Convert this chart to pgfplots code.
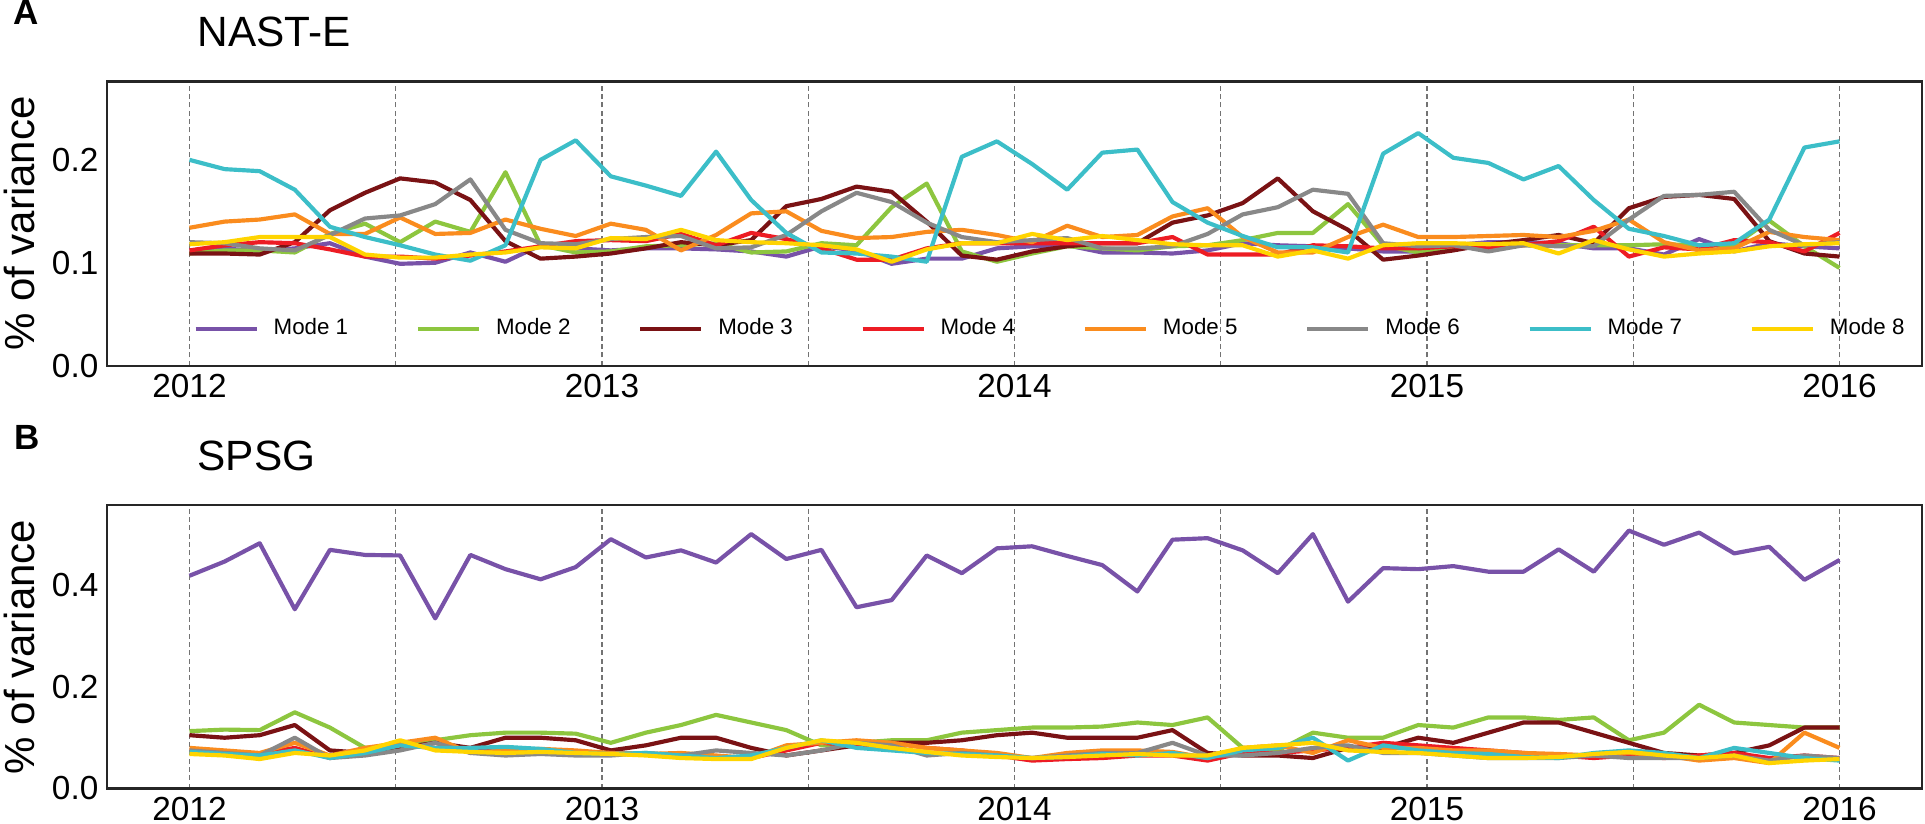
\documentclass[border=0pt]{standalone}
\usepackage{fontspec}
\setmainfont{Liberation Sans}
\usepackage{pgfplots}
\pgfplotsset{compat=1.18}
\usepackage{pgfplotstable}

\definecolor{c1}{RGB}{120,82,168}
\definecolor{c2}{RGB}{141,198,63}
\definecolor{c3}{RGB}{122,18,20}
\definecolor{c4}{RGB}{237,28,36}
\definecolor{c5}{RGB}{250,140,30}
\definecolor{c6}{RGB}{136,136,136}
\definecolor{c7}{RGB}{60,190,200}
\definecolor{c8}{RGB}{255,212,0}

\pgfplotstableread{
x m1 m2 m3 m4 m5 m6 m7 m8
2012.0000 0.112 0.109 0.109 0.112 0.134 0.120 0.200 0.118
2012.0851 0.114 0.112 0.109 0.117 0.140 0.119 0.191 0.120
2012.1702 0.111 0.112 0.108 0.120 0.142 0.114 0.189 0.125
2012.2553 0.114 0.110 0.120 0.119 0.147 0.112 0.171 0.125
2012.3404 0.119 0.128 0.151 0.113 0.128 0.127 0.135 0.125
2012.4255 0.106 0.138 0.168 0.106 0.128 0.143 0.125 0.108
2012.5106 0.099 0.120 0.182 0.106 0.144 0.146 0.117 0.105
2012.5957 0.100 0.140 0.178 0.104 0.128 0.157 0.108 0.105
2012.6809 0.110 0.130 0.161 0.107 0.129 0.181 0.102 0.108
2012.7660 0.101 0.188 0.121 0.111 0.142 0.132 0.117 0.110
2012.8511 0.117 0.117 0.104 0.116 0.133 0.119 0.200 0.115
2012.9362 0.114 0.110 0.106 0.121 0.126 0.118 0.219 0.114
2013.0213 0.112 0.111 0.109 0.122 0.138 0.123 0.184 0.124
2013.1064 0.114 0.116 0.114 0.121 0.132 0.125 0.175 0.123
2013.1915 0.114 0.117 0.120 0.128 0.112 0.126 0.165 0.132
2013.2766 0.113 0.119 0.117 0.117 0.127 0.114 0.208 0.122
2013.3617 0.111 0.110 0.122 0.129 0.148 0.115 0.161 0.120
2013.4468 0.106 0.111 0.155 0.123 0.150 0.127 0.129 0.119
2013.5319 0.116 0.119 0.162 0.114 0.131 0.150 0.110 0.117
2013.6170 0.112 0.117 0.174 0.103 0.124 0.168 0.109 0.113
2013.7021 0.099 0.154 0.169 0.103 0.125 0.159 0.106 0.101
2013.7872 0.104 0.177 0.140 0.114 0.130 0.139 0.101 0.113
2013.8723 0.104 0.111 0.107 0.119 0.132 0.125 0.203 0.119
2013.9574 0.114 0.101 0.103 0.119 0.127 0.120 0.218 0.119
2014.0426 0.116 0.109 0.111 0.119 0.120 0.122 0.196 0.128
2014.1277 0.117 0.116 0.116 0.119 0.136 0.124 0.171 0.122
2014.2128 0.110 0.114 0.119 0.119 0.125 0.114 0.207 0.126
2014.2979 0.110 0.112 0.119 0.119 0.127 0.114 0.210 0.122
2014.3830 0.109 0.116 0.139 0.125 0.145 0.116 0.159 0.118
2014.4681 0.112 0.117 0.146 0.108 0.153 0.128 0.139 0.117
2014.5532 0.119 0.122 0.158 0.108 0.125 0.147 0.126 0.117
2014.6383 0.117 0.129 0.182 0.108 0.110 0.154 0.115 0.106
2014.7234 0.116 0.129 0.150 0.117 0.110 0.171 0.115 0.112
2014.8085 0.114 0.157 0.132 0.116 0.125 0.167 0.110 0.104
2014.8936 0.111 0.117 0.103 0.114 0.137 0.119 0.206 0.117
2014.9787 0.111 0.110 0.107 0.114 0.125 0.116 0.226 0.119
2015.0638 0.117 0.114 0.112 0.116 0.125 0.117 0.202 0.119
2015.1489 0.120 0.117 0.118 0.114 0.126 0.111 0.197 0.118
2015.2340 0.120 0.117 0.122 0.117 0.127 0.117 0.181 0.119
2015.3191 0.119 0.117 0.127 0.121 0.125 0.116 0.194 0.109
2015.4043 0.114 0.117 0.119 0.135 0.131 0.116 0.161 0.122
2015.4894 0.114 0.117 0.153 0.106 0.142 0.142 0.133 0.113
2015.5745 0.108 0.118 0.164 0.115 0.120 0.165 0.126 0.106
2015.6596 0.123 0.117 0.166 0.113 0.112 0.166 0.117 0.109
2015.7447 0.111 0.117 0.162 0.122 0.114 0.169 0.119 0.111
2015.8298 0.119 0.141 0.121 0.120 0.130 0.132 0.142 0.116
2015.9149 0.116 0.116 0.109 0.111 0.125 0.117 0.212 0.118
2016.0000 0.114 0.095 0.106 0.129 0.122 0.120 0.218 0.119
}\dataA

\pgfplotstableread{
x m1 m2 m3 m4 m5 m6 m7 m8
2012.0000 0.419 0.113 0.105 0.075 0.080 0.075 0.072 0.068
2012.0851 0.447 0.116 0.100 0.072 0.075 0.070 0.068 0.065
2012.1702 0.483 0.115 0.105 0.068 0.070 0.065 0.065 0.058
2012.2553 0.353 0.150 0.125 0.080 0.090 0.100 0.075 0.070
2012.3404 0.470 0.120 0.075 0.060 0.065 0.060 0.060 0.065
2012.4255 0.460 0.080 0.070 0.075 0.080 0.065 0.070 0.075
2012.5106 0.459 0.085 0.080 0.085 0.090 0.075 0.085 0.095
2012.5957 0.335 0.095 0.090 0.080 0.100 0.090 0.080 0.075
2012.6809 0.460 0.105 0.080 0.075 0.070 0.070 0.080 0.072
2012.7660 0.432 0.110 0.100 0.072 0.075 0.065 0.082 0.070
2012.8511 0.412 0.110 0.100 0.070 0.078 0.068 0.078 0.072
2012.9362 0.436 0.108 0.095 0.068 0.075 0.065 0.070 0.070
2013.0213 0.491 0.090 0.075 0.070 0.070 0.065 0.068 0.068
2013.1064 0.455 0.110 0.085 0.068 0.068 0.070 0.070 0.065
2013.1915 0.469 0.125 0.100 0.065 0.070 0.065 0.065 0.060
2013.2766 0.445 0.145 0.100 0.062 0.065 0.075 0.060 0.058
2013.3617 0.501 0.130 0.080 0.060 0.060 0.070 0.065 0.058
2013.4468 0.452 0.115 0.065 0.075 0.085 0.065 0.080 0.080
2013.5319 0.470 0.085 0.075 0.090 0.090 0.075 0.095 0.095
2013.6170 0.357 0.090 0.085 0.085 0.095 0.090 0.080 0.090
2013.7021 0.371 0.095 0.090 0.090 0.090 0.085 0.075 0.080
2013.7872 0.459 0.095 0.090 0.080 0.080 0.065 0.070 0.072
2013.8723 0.424 0.110 0.095 0.075 0.075 0.070 0.068 0.065
2013.9574 0.473 0.115 0.105 0.065 0.070 0.065 0.065 0.062
2014.0426 0.477 0.120 0.110 0.055 0.060 0.060 0.060 0.060
2014.1277 0.458 0.120 0.100 0.058 0.070 0.065 0.062 0.062
2014.2128 0.440 0.122 0.100 0.060 0.075 0.070 0.068 0.065
2014.2979 0.388 0.130 0.100 0.065 0.075 0.070 0.065 0.068
2014.3830 0.490 0.125 0.115 0.065 0.072 0.090 0.070 0.065
2014.4681 0.493 0.140 0.070 0.055 0.060 0.065 0.060 0.065
2014.5532 0.469 0.080 0.065 0.070 0.080 0.065 0.075 0.080
2014.6383 0.424 0.075 0.065 0.070 0.085 0.070 0.080 0.085
2014.7234 0.501 0.110 0.060 0.075 0.070 0.080 0.100 0.090
2014.8085 0.368 0.100 0.080 0.080 0.095 0.085 0.055 0.075
2014.8936 0.434 0.100 0.080 0.090 0.080 0.070 0.085 0.072
2014.9787 0.432 0.125 0.100 0.085 0.080 0.070 0.075 0.070
2015.0638 0.438 0.120 0.090 0.080 0.075 0.065 0.070 0.065
2015.1489 0.427 0.140 0.110 0.075 0.075 0.060 0.068 0.060
2015.2340 0.427 0.140 0.130 0.070 0.070 0.060 0.062 0.060
2015.3191 0.471 0.135 0.130 0.065 0.068 0.060 0.060 0.062
2015.4043 0.427 0.140 0.110 0.060 0.065 0.065 0.070 0.068
2015.4894 0.508 0.095 0.090 0.065 0.070 0.060 0.075 0.072
2015.5745 0.480 0.110 0.070 0.060 0.065 0.060 0.070 0.065
2015.6596 0.504 0.165 0.065 0.065 0.055 0.060 0.060 0.060
2015.7447 0.463 0.130 0.070 0.070 0.060 0.065 0.080 0.065
2015.8298 0.476 0.125 0.085 0.060 0.050 0.055 0.070 0.050
2015.9149 0.411 0.120 0.120 0.065 0.110 0.065 0.060 0.055
2016.0000 0.450 0.120 0.120 0.060 0.080 0.060 0.055 0.058
}\dataB

\pgfplotsset{
  panel/.style={
    scale only axis, width=544.5pt,
    xmin=2011.8, xmax=2016.2,
    xtick={2012,2013,2014,2015,2016},
    xticklabels={2012,2013,2014,2015,2016},
    minor xtick={2012.5,2013.5,2014.5,2015.5},
    xmajorgrids, xminorgrids,
    major grid style={draw=black!55, line width=0.35pt, dash pattern=on 1.5pt off 1pt},
    minor grid style={draw=black!55, line width=0.35pt, dash pattern=on 1.5pt off 1pt},
    major tick length=0pt, minor tick length=0pt,
    axis line style={line width=0.7pt, draw=black!85},
    tick label style={font=\fontsize{10}{11}\selectfont},
    /pgf/number format/assume math mode=true,
    yticklabel style={/pgf/number format/fixed, /pgf/number format/fixed zerofill, /pgf/number format/precision=1, inner sep=0pt, xshift=-2.4pt},
    xticklabel style={inner sep=0pt, yshift=-2.5pt},
    ylabel={\% of variance},
    ylabel style={at={(axis description cs:-0.0397,0.5)}, anchor=base, inner sep=0pt, font=\fontsize{12.6}{14}\selectfont},
    title style={at={(axis description cs:0.0496,1)}, anchor=base west, inner sep=0pt, yshift=4.4pt, font=\fontsize{12.7}{14}\selectfont},
    every axis plot/.append style={line width=1.25pt, line join=round},
  }
}

\begin{document}
\begin{tikzpicture}[x=1pt,y=1pt]
\useasboundingbox (0,0) rectangle (577.5,246.9);

\begin{axis}[panel, at={(32.1pt,137.2pt)}, anchor=south west, height=85.2pt,
  ymin=0, ymax=0.276, ytick={0,0.1,0.2},
  title={NAST-E},
  legend columns=8,
  legend image code/.code={\draw[#1] (0pt,0pt) -- (18.3pt,0pt);},
  legend style={draw=none, fill=none, at={(axis description cs:0.519,0.129)}, anchor=center,
    font=\fontsize{6.7}{8}\selectfont, inner sep=0pt, nodes={inner sep=0pt},
    /tikz/every odd column/.append style={column sep=4.5pt},
    /tikz/every even column/.append style={column sep=20.3pt}},
]
\addplot[c1] table[x=x,y=m1] {\dataA}; \addlegendentry{Mode 1}
\addplot[c2] table[x=x,y=m2] {\dataA}; \addlegendentry{Mode 2}
\addplot[c3] table[x=x,y=m3] {\dataA}; \addlegendentry{Mode 3}
\addplot[c4] table[x=x,y=m4] {\dataA}; \addlegendentry{Mode 4}
\addplot[c5] table[x=x,y=m5] {\dataA}; \addlegendentry{Mode 5}
\addplot[c6] table[x=x,y=m6] {\dataA}; \addlegendentry{Mode 6}
\addplot[c7] table[x=x,y=m7] {\dataA}; \addlegendentry{Mode 7}
\addplot[c8] table[x=x,y=m8] {\dataA}; \addlegendentry{Mode 8}
\end{axis}

\begin{axis}[panel, at={(32.1pt,10.35pt)}, anchor=south west, height=85.0pt,
  ymin=0, ymax=0.558, ytick={0,0.2,0.4},
  title={SPSG},
]
\addplot[c1] table[x=x,y=m1] {\dataB};
\addplot[c2] table[x=x,y=m2] {\dataB};
\addplot[c3] table[x=x,y=m3] {\dataB};
\addplot[c4] table[x=x,y=m4] {\dataB};
\addplot[c5] table[x=x,y=m5] {\dataB};
\addplot[c6] table[x=x,y=m6] {\dataB};
\addplot[c7] table[x=x,y=m7] {\dataB};
\addplot[c8] table[x=x,y=m8] {\dataB};
\end{axis}

\node[anchor=base west, inner sep=0pt, font=\bfseries\fontsize{10.5}{12}\selectfont] at (4.0,239.5) {A};
\node[anchor=base west, inner sep=0pt, font=\bfseries\fontsize{10.5}{12}\selectfont] at (4.3,112.0) {B};
\end{tikzpicture}
\end{document}
